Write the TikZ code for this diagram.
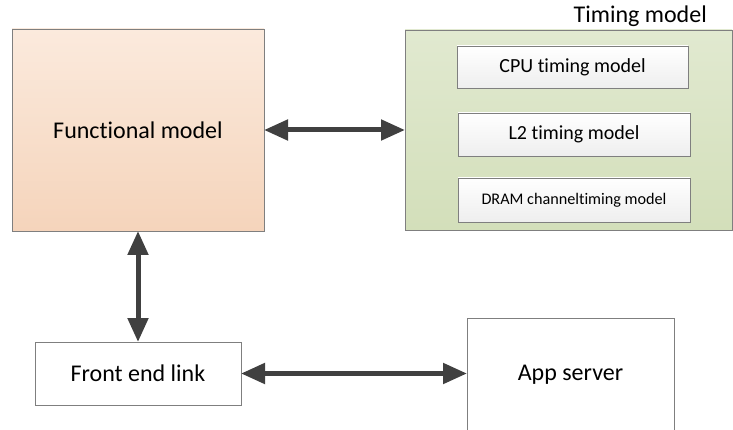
\documentclass[tikz,border=0pt]{standalone}
\usepackage{fontspec}
\setmainfont[Ligatures={NoCommon}]{Carlito}
\usetikzlibrary{arrows.meta}
\definecolor{fmtop}{HTML}{FBEADD}
\definecolor{fmbot}{HTML}{F5D4BB}
\definecolor{tmtop}{HTML}{E1E9D0}
\definecolor{tmbot}{HTML}{D3DFBA}
\definecolor{inbot}{HTML}{EEEEEE}
\definecolor{bord}{HTML}{7F7F7F}
\definecolor{arrc}{HTML}{404040}
\tikzset{
  box/.style={draw=bord, line width=0.9pt, inner sep=0pt, outer sep=0pt, rectangle},
  fmbox/.style={box, top color=fmtop, bottom color=fmbot},
  tmbox/.style={box, top color=tmtop, bottom color=tmbot},
  inbox/.style={box, top color=white, bottom color=inbot},
  plain/.style={box, fill=white},
  bigtxt/.style={font=\fontsize{24}{28}\selectfont},
  midtxt/.style={font=\fontsize{20}{24}\selectfont},
  smltxt/.style={font=\fontsize{16.2}{19}\selectfont},
  arr/.style={draw=arrc, line width=5pt, {Triangle[length=24pt,width=20pt]}-{Triangle[length=24pt,width=20pt]}}
}
\begin{document}
\begin{tikzpicture}[x=1pt,y=-1pt]
\useasboundingbox (0,0) rectangle (733,430);
\node[fmbox, bigtxt, minimum width=252pt, minimum height=202pt] (fm) at (138,130) {Functional model};
\node[tmbox, minimum width=327pt, minimum height=200pt] (tm) at (568.5,130) {};
\node[bigtxt, anchor=east, inner sep=0pt] (tml) at (707,16) {Timing model};
\node[inbox, midtxt, minimum width=231pt, minimum height=42pt] (cpu) at (572.5,67) {CPU timing model};
\node[inbox, midtxt, minimum width=232pt, minimum height=43pt] (l2) at (574,134.5) {L2 timing model};
\node[inbox, smltxt, minimum width=232pt, minimum height=44pt] (dram) at (574,200) {DRAM channeltiming model};
\node[plain, bigtxt, minimum width=206pt, minimum height=63pt] (fe) at (138,373.5) {Front end link};
\node[plain, bigtxt, minimum width=207pt, minimum height=114pt] (app) at (570.5,375) {App server};
\draw[arr] (fm.east) -- (tm.west);
\draw[arr] (fm.south) -- (fe.north);
\draw[arr] (fe.east) -- (fe.east -| app.west);
\end{tikzpicture}
\end{document}
